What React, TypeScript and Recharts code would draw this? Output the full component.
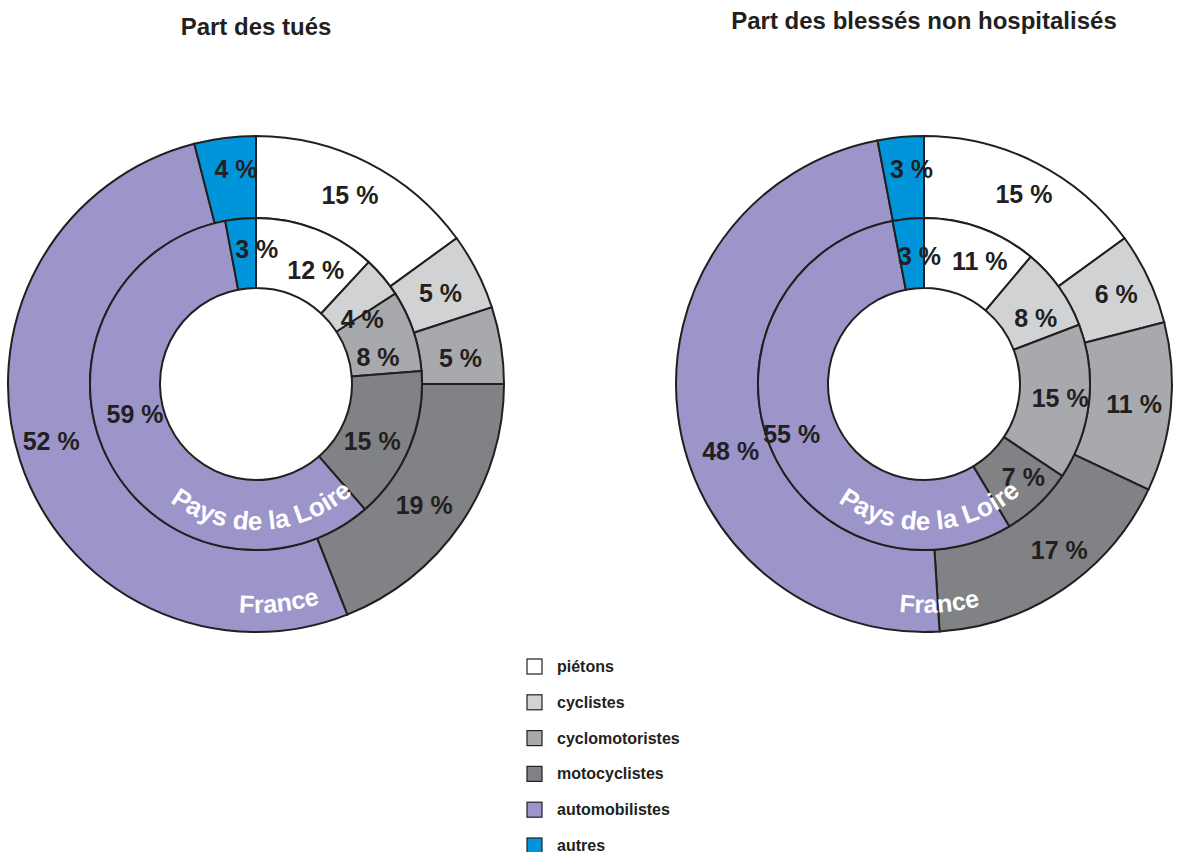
import { PieChart, Pie, Cell } from 'recharts'

// road casualty breakdown by user type, France (outer ring) vs Pays de la Loire (inner ring)
const categories = ['piétons', 'cyclistes', 'cyclomotoristes', 'motocyclistes', 'automobilistes', 'autres']
const tuesFrance = [15, 5, 5, 19, 52, 4]
const tuesPdl = [12, 4, 8, 15, 59, 3]
const blessesFrance = [15, 6, 11, 17, 48, 3]
const blessesPdl = [11, 8, 15, 7, 55, 3]

const COLORS = ['#ffffff', '#d1d2d4', '#a7a9ac', '#808285', '#9b95c9', '#0095da']
const INK = '#231f20'
const FONT = '"Liberation Sans", Arial, Helvetica, sans-serif'

const W = 1178
const H = 852
const CY = 384
const LEFT_CX = 256
const RIGHT_CX = 924
const HOLE_R = 96
const MID_R = 166
const OUTER_R = 248

// hand placement of the % labels, offset from the segment centre (dx, dy per category)
const NUDGE_TUES_FR: [number, number][] = [[0, -5], [0, 3], [0, 6], [-3, 5], [-8, -7], [6, -10]]
const NUDGE_TUES_PDL: [number, number][] = [[12, 8], [6, 19], [-2, 15], [-5, 7], [-3, -27], [13, -5]]
const NUDGE_BLESSES_FR: [number, number][] = [[6, -6], [5, -2], [4, 1], [19, -5], [12, 41], [7, -9]]
const NUDGE_BLESSES_PDL: [number, number][] = [[11, 0], [5, 10], [6, -1], [9, -2], [-10, 3], [8, 2]]

const toRows = (values: number[]) => categories.map((name, i) => ({ name, value: values[i] }))

const RAD = Math.PI / 180

// percentage label centred in its ring segment, plus a small manual offset
const pctLabel = (nudge: [number, number][]) => (props: any) => {
  const { cx, cy, midAngle, innerRadius, outerRadius, value, index } = props
  const r = (innerRadius + outerRadius) / 2
  const [dx, dy] = nudge[index] ?? [0, 0]
  const x = cx + r * Math.cos(-midAngle * RAD) + dx
  const y = cy + r * Math.sin(-midAngle * RAD) + dy
  return (
    <text
      x={x}
      y={y}
      textAnchor="middle"
      dominantBaseline="central"
      fill={INK}
      fontFamily={FONT}
      fontWeight="bold"
      fontSize={25}
    >
      {`${value} %`}
    </text>
  )
}

function Ring({ cx, inner, outer, values, nudge }: {
  cx: number
  inner: number
  outer: number
  values: number[]
  nudge: [number, number][]
}) {
  return (
    <Pie
      data={toRows(values)}
      dataKey="value"
      nameKey="name"
      cx={cx}
      cy={CY}
      innerRadius={inner}
      outerRadius={outer}
      startAngle={90}
      endAngle={-270}
      stroke={INK}
      strokeWidth={2}
      label={pctLabel(nudge)}
      labelLine={false}
      isAnimationActive={false}
    >
      {values.map((_, i) => (
        <Cell key={i} fill={COLORS[i]} />
      ))}
    </Pie>
  )
}

// bottom arc running left to right, so text sits upright on it
const bottomArc = (cx: number, r: number) =>
  `M ${cx - r} ${CY} A ${r} ${r} 0 0 0 ${cx + r} ${CY}`

function RingNames({ id, cx, pdlOffset, frOffset }: { id: string; cx: number; pdlOffset: string; frOffset: string }) {
  const style = { fill: '#ffffff', fontFamily: FONT, fontWeight: 'bold' as const }
  return (
    <g>
      <defs>
        <path id={`${id}-pdl`} d={bottomArc(cx, 146)} />
        <path id={`${id}-fr`} d={bottomArc(cx, 229)} />
      </defs>
      <text style={{ ...style, fontSize: 26 }}>
        <textPath href={`#${id}-pdl`} startOffset={pdlOffset} textAnchor="middle">
          Pays de la Loire
        </textPath>
      </text>
      <text style={{ ...style, fontSize: 25 }}>
        <textPath href={`#${id}-fr`} startOffset={frOffset} textAnchor="middle">
          France
        </textPath>
      </text>
    </g>
  )
}

function LegendBox() {
  return (
    <g>
      {categories.map((name, i) => {
        const top = 659 + i * 35.8
        return (
          <g key={name}>
            <rect x={527} y={top} width={15} height={15} fill={COLORS[i]} stroke={INK} strokeWidth={1.2} />
            <text x={557} y={top + 13} fill={INK} fontFamily={FONT} fontWeight="bold" fontSize={16}>
              {name}
            </text>
          </g>
        )
      })}
    </g>
  )
}

export default function App() {
  return (
    <div style={{ position: 'absolute', left: 0, top: 0, width: W, height: H, background: '#fff' }}>
      <PieChart width={W} height={H} margin={{ top: 0, right: 0, bottom: 0, left: 0 }}>
        <text x={LEFT_CX} y={35} textAnchor="middle" fill={INK} fontFamily={FONT} fontWeight="bold" fontSize={24}>
          Part des tués
        </text>
        <text x={RIGHT_CX} y={29} textAnchor="middle" fill={INK} fontFamily={FONT} fontWeight="bold" fontSize={24}>
          Part des blessés non hospitalisés
        </text>
        {Ring({ cx: LEFT_CX, inner: MID_R, outer: OUTER_R, values: tuesFrance, nudge: NUDGE_TUES_FR })}
        {Ring({ cx: LEFT_CX, inner: HOLE_R, outer: MID_R, values: tuesPdl, nudge: NUDGE_TUES_PDL })}
        {Ring({ cx: RIGHT_CX, inner: MID_R, outer: OUTER_R, values: blessesFrance, nudge: NUDGE_BLESSES_FR })}
        {Ring({ cx: RIGHT_CX, inner: HOLE_R, outer: MID_R, values: blessesPdl, nudge: NUDGE_BLESSES_PDL })}
        <LegendBox />
      </PieChart>
      {/* ring names drawn on top of the sectors */}
      <svg
        width={W}
        height={H}
        style={{ position: 'absolute', left: 0, top: 0, pointerEvents: 'none' }}
      >
        <RingNames id="tues" cx={LEFT_CX} pdlOffset="51.5%" frOffset="53.3%" />
        <RingNames id="blesses" cx={RIGHT_CX} pdlOffset="51.5%" frOffset="52.2%" />
      </svg>
    </div>
  )
}
